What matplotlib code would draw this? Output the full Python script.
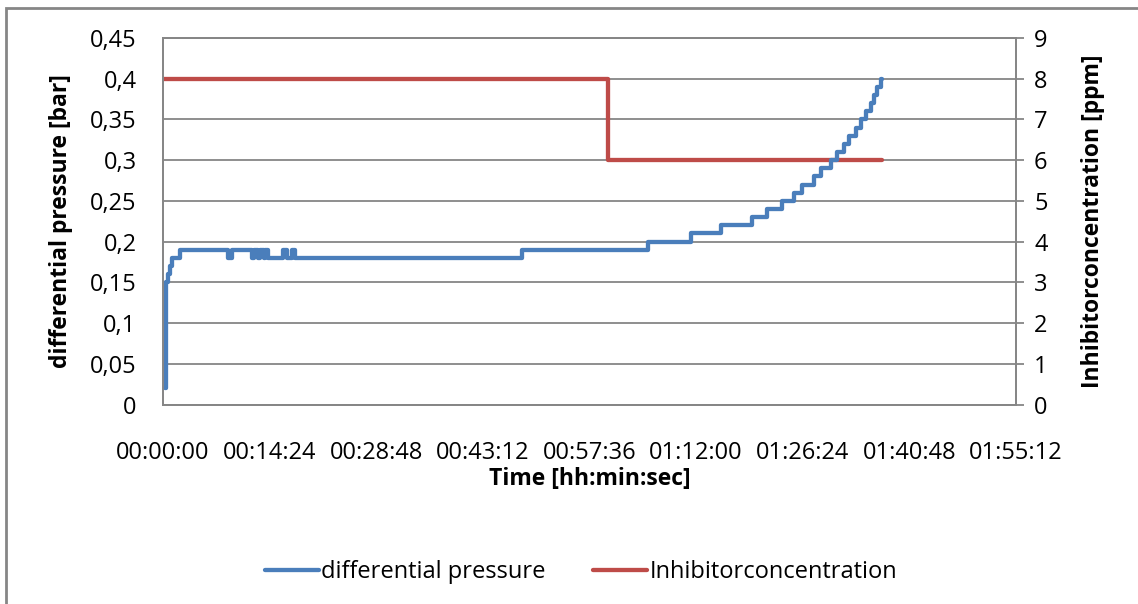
import matplotlib.pyplot as plt
from matplotlib.patches import Rectangle
from matplotlib.ticker import FixedLocator, FixedFormatter


# time in seconds since start, value holds until the next time (step data)
PRESSURE_TIME_S = [
    20, 28, 40, 57, 73, 138, 526, 558, 720, 740, 770, 790, 815, 830, 850,
    971, 1003, 1044, 1068, 2906, 3926, 4282, 4524, 4775, 4897, 5018, 5115,
    5180, 5277, 5334, 5415, 5463, 5520, 5560, 5617, 5658, 5698, 5739, 5763,
    5787, 5820, 5828,
]
PRESSURE_BAR = [
    0.02, 0.15, 0.16, 0.17, 0.18, 0.19, 0.18, 0.19, 0.18, 0.19, 0.18, 0.19,
    0.18, 0.19, 0.18, 0.19, 0.18, 0.19, 0.18, 0.19, 0.20, 0.21, 0.22, 0.23,
    0.24, 0.25, 0.26, 0.27, 0.28, 0.29, 0.30, 0.31, 0.32, 0.33, 0.34, 0.35,
    0.36, 0.37, 0.38, 0.39, 0.40, 0.40,
]

INHIBITOR_TIME_S = [0, 3602, 5828]
INHIBITOR_PPM = [8, 6, 6]

X_TICKS_S = [0, 864, 1728, 2592, 3456, 4320, 5184, 6048, 6912]
X_TICK_LABELS = ["00:00:00", "00:14:24", "00:28:48", "00:43:12", "00:57:36",
                 "01:12:00", "01:26:24", "01:40:48", "01:55:12"]
Y_TICKS = [0, 0.05, 0.1, 0.15, 0.2, 0.25, 0.3, 0.35, 0.4, 0.45]
Y_TICK_LABELS = ["0", "0,05", "0,1", "0,15", "0,2", "0,25", "0,3", "0,35",
                 "0,4", "0,45"]
Y2_TICKS = [0, 1, 2, 3, 4, 5, 6, 7, 8, 9]

BLUE = "#4a7ebb"
RED = "#be4b48"
GRAY = "#868686"
FONT_SIZE = 17
LABEL_SIZE = 16.5


def main():
    plt.rcParams["font.family"] = ["Open Sans", "DejaVu Sans"]
    plt.rcParams["font.size"] = FONT_SIZE

    fig = plt.figure(figsize=(11.38, 6.04), dpi=100)
    ax = fig.add_axes([163 / 1138, 1 - 404.5 / 604, 853 / 1138, 366.5 / 604])
    ax2 = ax.twinx()

    # pressure on top of the inhibitor line, grid drawn from the right axis
    ax.set_zorder(ax2.get_zorder() + 1)
    ax.patch.set_visible(False)

    (p_line,) = ax.plot(PRESSURE_TIME_S, PRESSURE_BAR, drawstyle="steps-post",
                        color=BLUE, linewidth=3.1, solid_capstyle="round",
                        solid_joinstyle="round", label="differential pressure")
    (i_line,) = ax2.plot(INHIBITOR_TIME_S, INHIBITOR_PPM, drawstyle="steps-post",
                         color=RED, linewidth=3.1, solid_capstyle="round",
                         solid_joinstyle="round", label="Inhibitorconcentration")

    ax.set_xlim(X_TICKS_S[0], X_TICKS_S[-1])
    ax.set_ylim(Y_TICKS[0], Y_TICKS[-1])
    ax2.set_ylim(Y2_TICKS[0], Y2_TICKS[-1])

    ax.xaxis.set_major_locator(FixedLocator(X_TICKS_S))
    ax.xaxis.set_major_formatter(FixedFormatter(X_TICK_LABELS))
    ax.yaxis.set_major_locator(FixedLocator(Y_TICKS))
    ax.yaxis.set_major_formatter(FixedFormatter(Y_TICK_LABELS))
    ax2.yaxis.set_major_locator(FixedLocator(Y2_TICKS))

    ax.tick_params(axis="x", length=0, pad=26)
    ax.tick_params(axis="y", length=0, pad=19)
    ax2.tick_params(axis="y", length=6, width=1.3, color=GRAY, direction="out", pad=7)

    ax2.grid(True, axis="y", color=GRAY, linewidth=1.3)
    for axis in (ax, ax2):
        for spine in axis.spines.values():
            spine.set_color(GRAY)
            spine.set_linewidth(1.3)

    ax.set_ylabel("differential pressure [bar]", fontsize=LABEL_SIZE,
                  fontweight="bold", labelpad=12)
    ax2.set_ylabel("Inhibitorconcentration [ppm]", fontsize=LABEL_SIZE,
                   fontweight="bold", labelpad=24)
    ax.set_xlabel("Time [hh:min:sec]", fontsize=LABEL_SIZE,
                  fontweight="bold", labelpad=2)

    fig.legend(handles=[p_line, i_line], loc="center", ncol=2, frameon=False,
               bbox_to_anchor=(0.5105, 1 - 572 / 604), handlelength=2.3,
               handletextpad=0.1, columnspacing=2.0)

    # outer chart border (cut by the image edge on the right and bottom)
    fig.patches.append(Rectangle((6 / 1138, -0.05), 1.1, 1.05 - 8 / 604,
                                 transform=fig.transFigure, fill=False,
                                 edgecolor=GRAY, linewidth=2))

    fig.savefig("out.png", dpi=100)
    plt.close(fig)


if __name__ == "__main__":
    main()
